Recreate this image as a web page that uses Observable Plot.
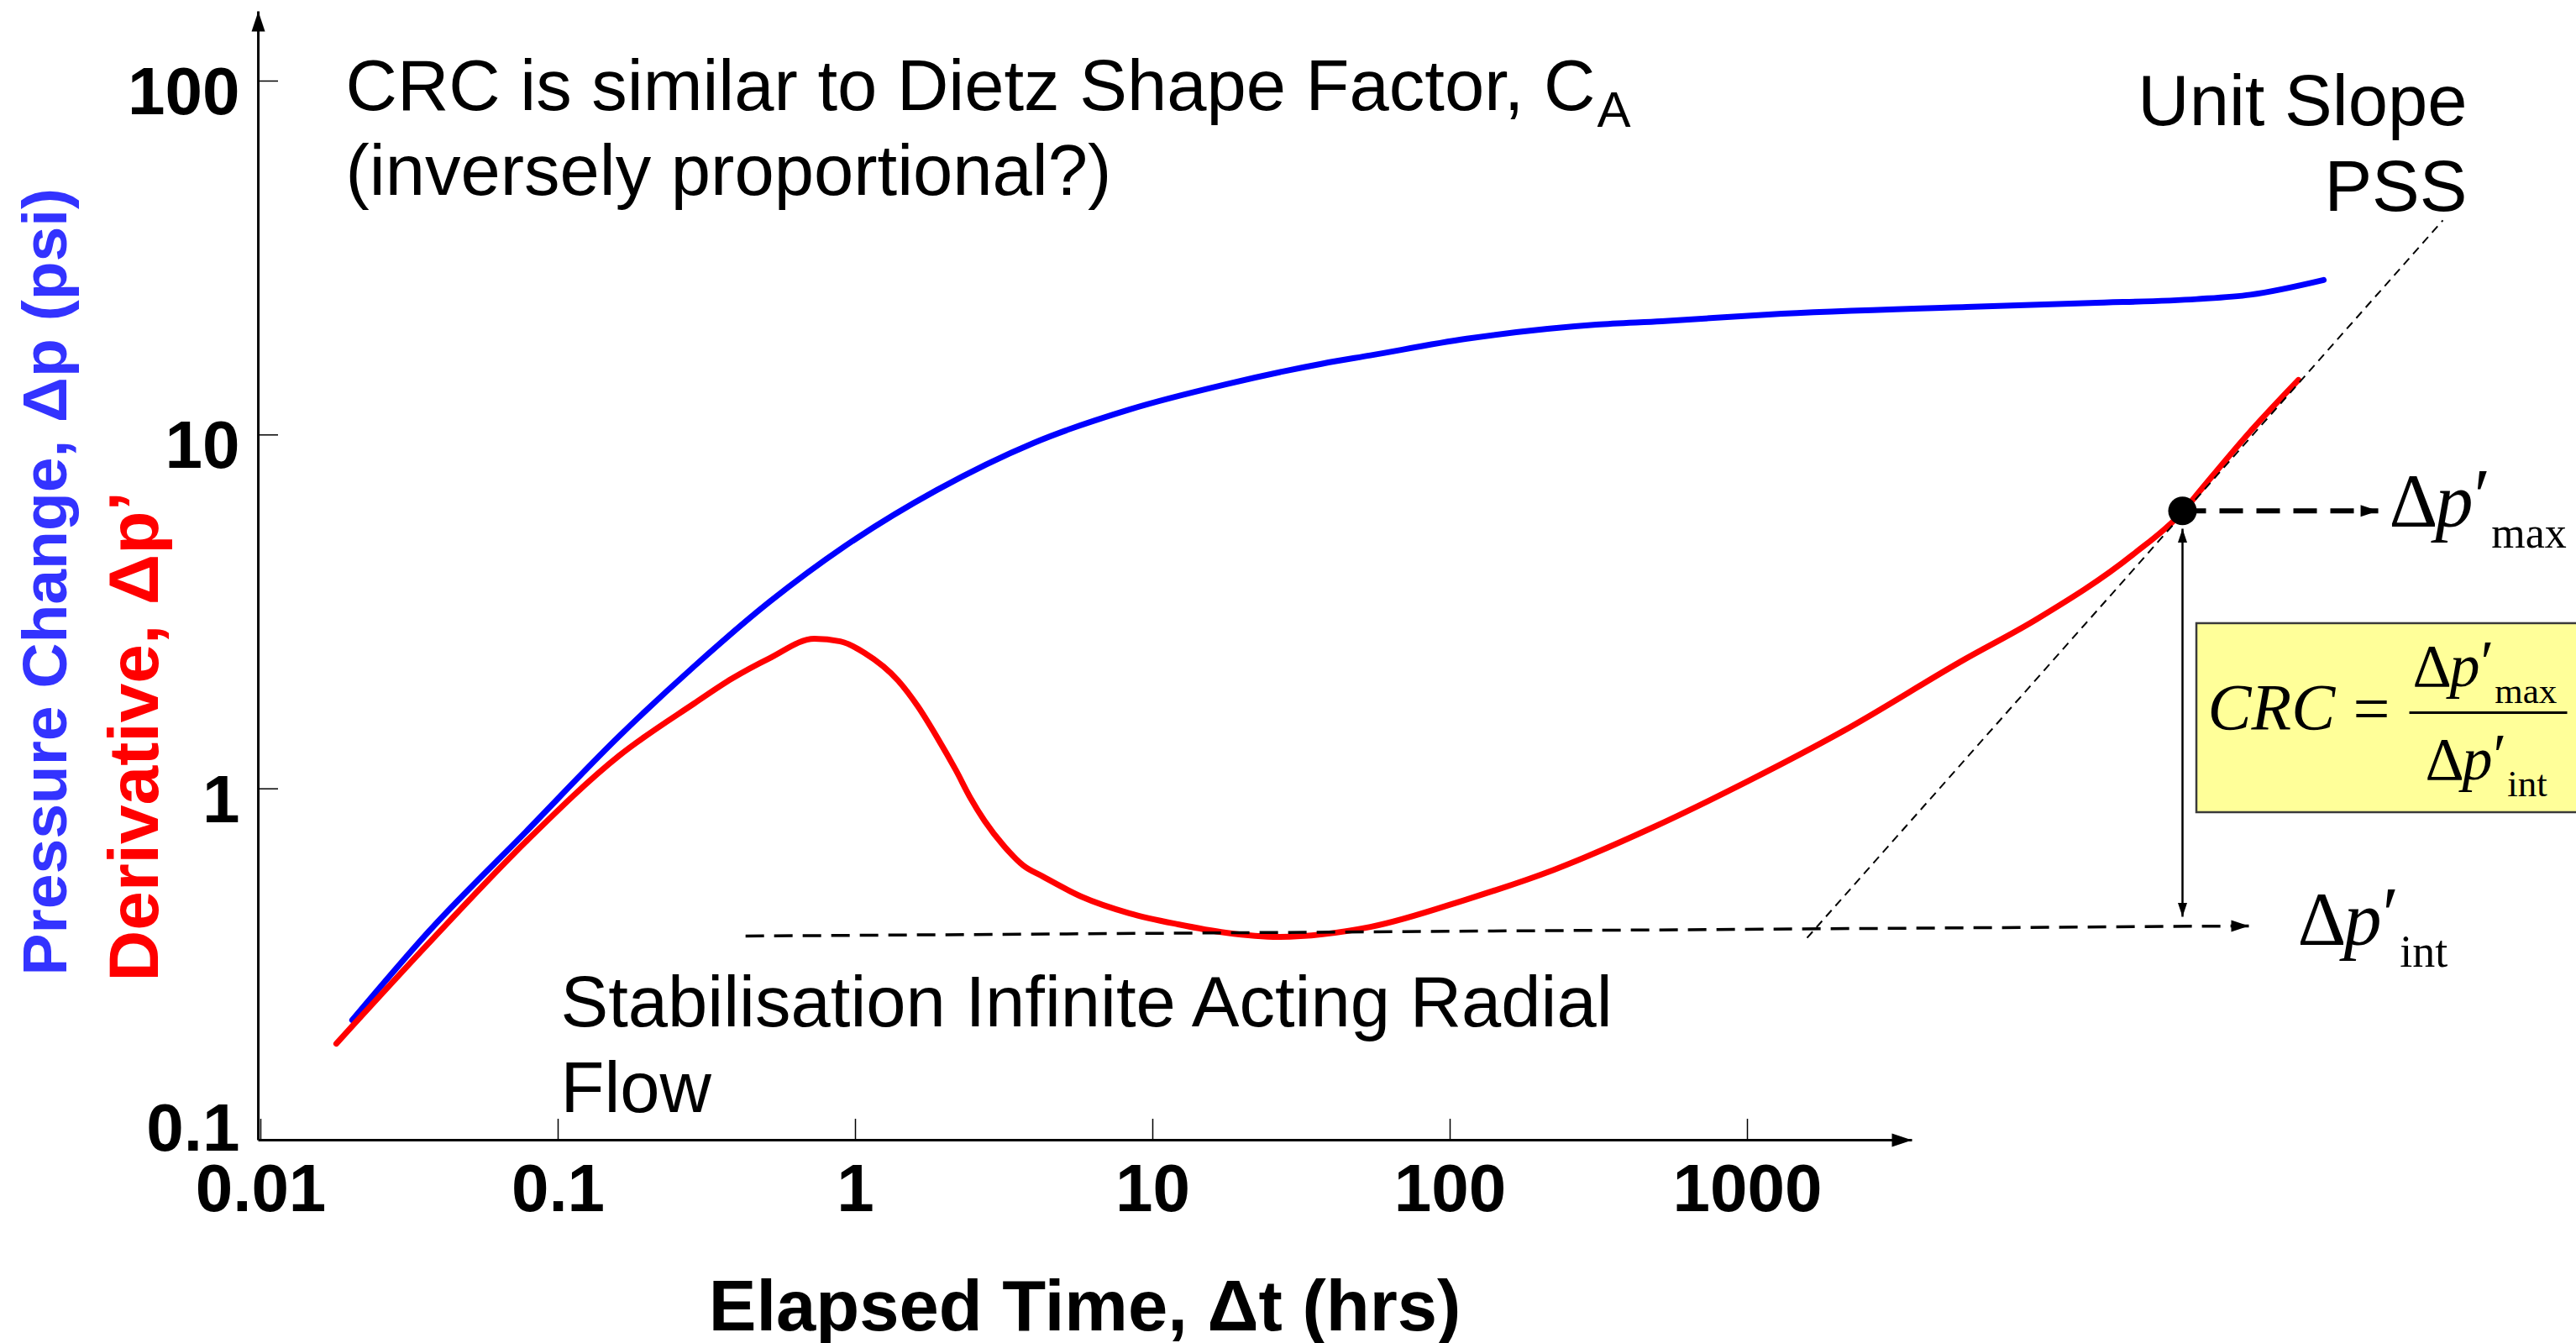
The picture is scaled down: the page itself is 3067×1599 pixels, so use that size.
<!DOCTYPE html>
<html>
<head>
<meta charset="utf-8">
<script src="https://cdn.jsdelivr.net/npm/d3@7"></script>
<script src="https://cdn.jsdelivr.net/npm/@observablehq/plot@0.6"></script>
<style>
  html, body { margin: 0; padding: 0; background: #ffffff; }
  #chart svg { display: block; }
</style>
</head>
<body>
<div id="chart"></div>
<script>
// ---------------- data ----------------
// Pressure change (blue)
const pressureTime   = [0.0203, 0.0377, 0.0778, 0.1607, 0.287, 0.515, 0.918, 1.88, 3.97, 8.34, 17.6, 37.2, 53.9, 113.8, 310, 515, 1177, 5460, 14220, 32460, 49200, 86700];
const pressureChange = [0.222, 0.405, 0.755, 1.41, 2.22, 3.38, 4.84, 6.99, 9.49, 11.8, 13.9, 15.9, 16.78, 18.7, 20.5, 20.96, 21.9, 23.0, 23.6, 24.2, 24.9, 27.4];
// Derivative (red)
const derivTime  = [0.01795, 0.0377, 0.0778, 0.1607, 0.287, 0.385, 0.515, 0.728, 0.889, 1.074, 1.393, 1.618, 1.88, 2.18, 2.44, 2.72, 3.16, 3.67, 4.27, 5.75, 8.34, 12.16, 17.6, 26.5, 53.9, 113.8, 224, 473, 1000, 2099, 5354, 9370, 19800, 29050, 33980, 49200, 71300];
const derivative = [0.1905, 0.375, 0.708, 1.242, 1.743, 2.05, 2.34, 2.655, 2.61, 2.42, 2.02, 1.714, 1.40, 1.126, 0.94, 0.811, 0.689, 0.607, 0.565, 0.496, 0.445, 0.414, 0.392, 0.3815, 0.407, 0.487, 0.591, 0.773, 1.049, 1.456, 2.317, 3.01, 4.59, 6.06, 7.10, 10.24, 14.3];

// tick values
const xTickValues = [0.01, 0.1, 1, 10, 100, 1000];
const yTickValues = [1, 10, 100];
const yBottomTick = [0.1];

// annotation values (data space)
const dpMaxPoint   = [{x: 29060, y: 6.1}];
const dpMaxArrow   = [{x1: 29060, x2: 132300, y1: 6.1, y2: 6.1}];
const dpIntLine    = [{x1: 0.427, y1: 0.3836, x2: 48580, y2: 0.4098}];
const unitSlope    = [{x1: 1587, y1: 0.379, x2: 218300, y2: 40.4}];
const crcArrow     = [{x1: 29060, y1: 5.435, x2: 29060, y2: 0.435}];
const axisLines    = [{x1: 0.00981, y1: 0.1016, x2: 3578, y2: 0.1016},
                      {x1: 0.00981, y1: 0.1016, x2: 0.00981, y2: 157.5}];
const axisHeads    = [{x: 3578, y: 0.1016, angle: 0}, {x: 0.00981, y: 157.5, angle: -90}];
const dashHeads    = [{x: 132300, y: 6.1, angle: 0}, {x: 48580, y: 0.4098, angle: 0}];
const crcHeads     = [{x: 29060, y: 5.435, angle: -90}, {x: 29060, y: 0.435, angle: 90}];
const formulaBox   = [{x1: 32460, x2: 668000, y1: 0.8565, y2: 2.93}];
const fractionBar  = [{x1: 168300, x2: 571600, y1: 1.642, y2: 1.642}];
const dpIntTip     = [{x: 48580, y: 0.4098}];
const boxCorner    = [{x: 32460, y: 2.93}];

// ---------------- styling ----------------
const sans  = "'Liberation Sans', Arial, Helvetica, sans-serif";
const serif = "'Liberation Serif', 'Times New Roman', Times, serif";
const BLUE = "#0000FF", RED = "#FF0000";

const pressure = pressureTime.map((t, i) => ({t, v: pressureChange[i]}));
const deriv    = derivTime.map((t, i) => ({t, v: derivative[i]}));

// filled arrow head, tip at origin, pointing right
const head = {
  draw(ctx, size) {
    const r = Math.sqrt(size / Math.PI);
    ctx.moveTo(0, 0);
    ctx.lineTo(-3 * r, -r);
    ctx.lineTo(-3 * r, r);
    ctx.closePath();
  }
};

// frame-anchored text (frame top-left = (307, 13))
const note = (str, dx, dy, opts = {}) => Plot.text([str], {
  text: d => d, frameAnchor: "top-left", dx, dy,
  lineAnchor: "bottom", textAnchor: "start", fill: "black",
  fontFamily: sans, fontSize: 85, ...opts
});

// serif math label anchored on a data point
const mathText = (anchor, str, dx, dy, size) => Plot.text(anchor, {
  x: "x", y: "y", text: () => str, dx, dy,
  fontFamily: serif, fontSize: size,
  lineAnchor: "bottom", textAnchor: "start", fill: "black"
});

const chart = Plot.plot({
  width: 3067,
  height: 1599,
  marginLeft: 307,
  marginRight: 0,
  marginTop: 13,
  marginBottom: 242,
  style: {background: "#ffffff", fontFamily: sans, overflow: "visible"},
  x: {type: "log", domain: [0.01, 1e6], range: [310, 310 + 8 * 354]},
  y: {type: "log", domain: [0.1, 100], range: [1360, 96]},
  marks: [
    // formula box
    Plot.rect(formulaBox, {x1: "x1", x2: "x2", y1: "y1", y2: "y2", fill: "#FFFF99", stroke: "#3a3a3a", strokeWidth: 2.5}),

    // axes
    Plot.link(axisLines, {x1: "x1", y1: "y1", x2: "x2", y2: "y2", stroke: "black", strokeWidth: 3}),
    Plot.dot(axisHeads, {x: "x", y: "y", rotate: "angle", symbol: head, r: 8, fill: "black", stroke: null}),
    Plot.axisX({ticks: xTickValues, tickSize: -25, tickFormat: () => "", strokeWidth: 1.5, label: null}),
    Plot.axisX({ticks: xTickValues, tickSize: 0, tickPadding: 28, tickFormat: d => String(d),
                fontSize: 80, fontWeight: "bold", fontFamily: sans, fill: "black", label: null}),
    Plot.axisY({ticks: yTickValues, tickSize: -24, tickFormat: () => "", strokeWidth: 1.5, label: null}),
    Plot.axisY({ticks: yTickValues, tickSize: 0, tickPadding: 22, dy: 14, tickFormat: d => String(d),
                fontSize: 80, fontWeight: "bold", fontFamily: sans, fill: "black", label: null}),
    Plot.axisY({ticks: yBottomTick, tickSize: 0, tickPadding: 22, dy: -16, tickFormat: d => String(d),
                fontSize: 80, fontWeight: "bold", fontFamily: sans, fill: "black", label: null}),

    // curves
    Plot.line(pressure, {x: "t", y: "v", stroke: BLUE, strokeWidth: 7, curve: "monotone-x"}),
    Plot.line(deriv, {x: "t", y: "v", stroke: RED, strokeWidth: 7, curve: "monotone-x"}),

    // dashed guides and arrows
    Plot.link(unitSlope, {x1: "x1", y1: "y1", x2: "x2", y2: "y2", stroke: "black", strokeWidth: 2, strokeDasharray: "10,7"}),
    Plot.link(dpIntLine, {x1: "x1", y1: "y1", x2: "x2", y2: "y2", stroke: "black", strokeWidth: 3.5, strokeDasharray: "22,12"}),
    Plot.link(dpMaxArrow, {x1: "x1", y1: "y1", x2: "x2", y2: "y2", stroke: "black", strokeWidth: 6, strokeDasharray: "28,16"}),
    Plot.dot(dashHeads, {x: "x", y: "y", rotate: "angle", symbol: head, r: 7, fill: "black", stroke: null}),
    Plot.link(crcArrow, {x1: "x1", y1: "y1", x2: "x2", y2: "y2", stroke: "black", strokeWidth: 2.5}),
    Plot.dot(crcHeads, {x: "x", y: "y", rotate: "angle", symbol: head, r: 5.5, fill: "black", stroke: null}),
    Plot.dot(dpMaxPoint, {x: "x", y: "y", r: 17, fill: "black", stroke: null}),

    // fraction bar
    Plot.link(fractionBar, {x1: "x1", y1: "y1", x2: "x2", y2: "y2", stroke: "black", strokeWidth: 3}),

    // notes
    note("CRC is similar to Dietz Shape Factor, CA", 104, 117),
    note("(inversely proportional?)", 104, 218),
    note("Unit Slope\nPSS", 2630, 237, {textAnchor: "end", lineHeight: 1.2}),
    note("Stabilisation Infinite Acting Radial\nFlow", 360, 1310, {lineHeight: 1.2}),
    note("Elapsed Time, Δt (hrs)", 984, 1570, {textAnchor: "middle", fontWeight: "bold", fontSize: 85}),
    note("Pressure Change, Δp (psi)", -229, 1148, {rotate: -90, fontWeight: "bold", fontSize: 75, fill: "#3333FF"}),
    note("Derivative, Δp’", -120, 1155, {rotate: -90, fontWeight: "bold", fontSize: 84, fill: RED}),

    // math labels (typeset below with tspans)
    mathText(dpMaxPoint, "Δp′max", 246, 19, 90),
    mathText(dpIntTip, "Δp′int", 58, 23, 90),
    mathText(boxCorner, "CRC =", 13, 126, 78),
    mathText(boxCorner, "Δp′max", 257, 75, 72),
    mathText(boxCorner, "Δp′int", 272, 186, 72)
  ]
});

// ---- typeset text pieces as tspans (italic p, prime, subscripts) ----
const svg = d3.select(chart);
function typeset(content, fontSize, parts) {
  svg.selectAll("text").filter(function () {
    if (this.textContent !== content) return false;
    let n = this;
    while (n && n !== chart) {
      const fs = n.getAttribute && n.getAttribute("font-size");
      if (fs) return parseFloat(fs) === fontSize;
      n = n.parentNode;
    }
    return false;
  }).each(function () {
    const t = d3.select(this);
    t.text(null);
    for (const p of parts) {
      const s = t.append("tspan").text(p.t);
      if (p.italic) s.attr("font-style", "italic");
      if (p.size) s.attr("font-size", p.size);
      if (p.x !== undefined) s.attr("x", p.x);
      if (p.y !== undefined) s.attr("y", p.y);
      if (p.dx !== undefined) s.attr("dx", p.dx);
      if (p.dy !== undefined) s.attr("dy", p.dy);
    }
  });
}
typeset("CRC is similar to Dietz Shape Factor, CA", 85, [
  {t: "CRC is similar to Dietz Shape Factor, C"}, {t: "A", size: 60, dx: 2, dy: 20}
]);
typeset("Δp′max", 90, [
  {t: "Δ", x: 0, y: 0}, {t: "p", x: 55, y: 0, italic: true}, {t: "′", x: 101, y: -6}, {t: "max", y: 25, dx: 1, size: 52}
]);
typeset("Δp′int", 90, [
  {t: "Δ", x: 0, y: 0}, {t: "p", x: 55, y: 0, italic: true}, {t: "′", x: 101, y: -6}, {t: "int", y: 26, dx: 1, size: 54}
]);
typeset("CRC =", 78, [
  {t: "CRC", x: 0, y: 0, italic: true}, {t: "=", x: 173, y: 2}
]);
typeset("Δp′max", 72, [
  {t: "Δ", x: 0, y: 0}, {t: "p", x: 44, y: 0, italic: true}, {t: "′", x: 81, y: -5}, {t: "max", y: 20, dx: 1, size: 43}
]);
typeset("Δp′int", 72, [
  {t: "Δ", x: 0, y: 0}, {t: "p", x: 44, y: 0, italic: true}, {t: "′", x: 81, y: -5}, {t: "int", y: 20, dx: 1, size: 45}
]);

document.getElementById("chart").appendChild(chart);
</script>
</body>
</html>
